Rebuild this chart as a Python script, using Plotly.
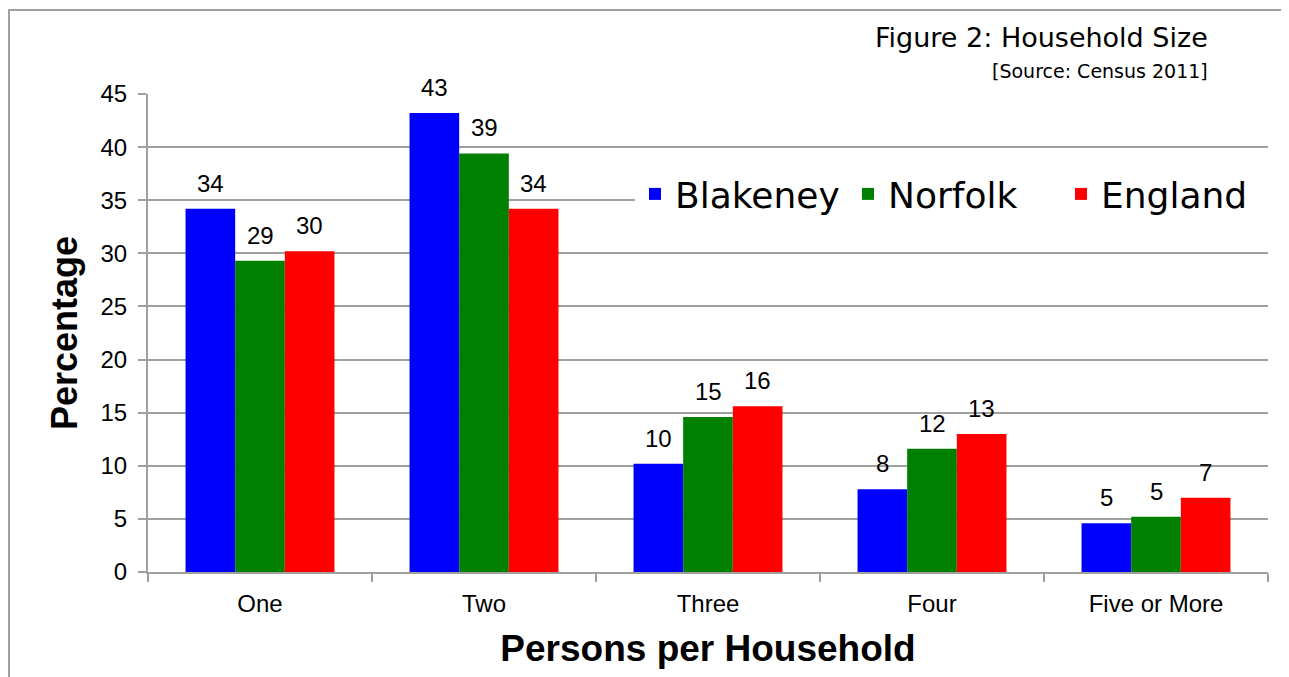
import plotly.graph_objects as go

categories = ["One", "Two", "Three", "Four", "Five or More"]
blakeney = [34.2, 43.2, 10.2, 7.8, 4.6]
norfolk = [29.3, 39.4, 14.6, 11.6, 5.2]
england = [30.2, 34.2, 15.6, 13.0, 7.0]
series_names = ["Blakeney", "Norfolk", "England"]
series_colors = ["#0000FF", "#008000", "#FF0000"]
y_ticks = [0, 5, 10, 15, 20, 25, 30, 35, 40, 45]

series_values = [blakeney, norfolk, england]

OFF = 8  # page body margin
W, H = 1289 - OFF, 677 - OFF
ML, MR, MT, MB = 148 - OFF, 21, 94 - OFF, 105
PW = W - ML - MR
PH = H - MT - MB

def px_x(p):
    return (p - OFF - ML) / PW

def px_y(p):
    return (H - MB - (p - OFF)) / PH

fig = go.Figure()
for name, vals, col in zip(series_names, series_values, series_colors):
    fig.add_trace(go.Bar(
        name=name, x=categories, y=vals,
        marker=dict(color=col, line=dict(width=0)),
        hoverinfo="skip",
    ))

grid = "#a0a0a0"
tick_font = dict(family="Liberation Sans, Arial, sans-serif", size=24, color="#000000")
bar_px = PW / len(categories) * (1 - 0.335) / 3

annotations = []
for i, vals in enumerate(series_values):
    for c, v in zip(categories, vals):
        annotations.append(dict(
            x=c, y=v, xref="x", yref="y", text=f"{v:.0f}", showarrow=False,
            xanchor="center", yanchor="bottom", xshift=(i - 1) * bar_px, yshift=10,
            font=tick_font,
        ))

annotations.append(dict(
    x=px_x(1210), y=px_y(38), xref="paper", yref="paper", text="Figure 2: Household Size",
    showarrow=False, xanchor="right", yanchor="middle",
    font=dict(family="DejaVu Sans, sans-serif", size=27, color="#000000"),
))
annotations.append(dict(
    x=px_x(1210), y=px_y(71), xref="paper", yref="paper", text="[Source: Census 2011]",
    showarrow=False, xanchor="right", yanchor="middle",
    font=dict(family="DejaVu Sans, sans-serif", size=19, color="#000000"),
))

shapes = [dict(
    type="rect", xref="paper", yref="paper",
    x0=px_x(9), x1=px_x(1310), y0=px_y(700), y1=px_y(10),
    line=dict(color="#a0a0a0", width=2), fillcolor="rgba(0,0,0,0)", layer="below",
)]

fig.update_layout(
    width=W, height=H,
    margin=dict(l=ML, r=MR, t=MT, b=MB, autoexpand=False),
    paper_bgcolor="white", plot_bgcolor="white",
    barmode="group", bargap=0.335, bargroupgap=0,
    showlegend=True,
    legend=dict(
        orientation="h", x=px_x(635), y=px_y(194), xanchor="left", yanchor="middle",
        bgcolor="white", borderwidth=0, entrywidth=168, entrywidthmode="pixels",
        font=dict(family="DejaVu Sans, sans-serif", size=36, color="#000000"),
        itemclick=False, itemdoubleclick=False,
    ),
    xaxis=dict(
        type="category", tickson="boundaries", ticks="outside", ticklen=8,
        tickcolor=grid, tickwidth=2, showline=True, linecolor=grid, linewidth=2,
        showgrid=False, tickfont=tick_font, ticklabelstandoff=9,
        title=dict(text="<b>Persons per Household</b>", standoff=19,
                   font=dict(family="Liberation Sans, Arial, sans-serif", size=37, color="#000000")),
        automargin=False,
    ),
    yaxis=dict(
        range=[0, 45], tickvals=y_ticks, ticks="outside", ticklen=8,
        tickcolor=grid, tickwidth=2, showline=True, linecolor=grid, linewidth=2,
        showgrid=True, gridcolor=grid, gridwidth=2, zeroline=False,
        tickfont=tick_font, ticklabelstandoff=6,
        title=dict(text="<b>Percentage</b>", standoff=12,
                   font=dict(family="Liberation Sans, Arial, sans-serif", size=36, color="#000000")),
        automargin=False,
    ),
    annotations=annotations,
    shapes=shapes,
)

fig.write_html("out.html")
